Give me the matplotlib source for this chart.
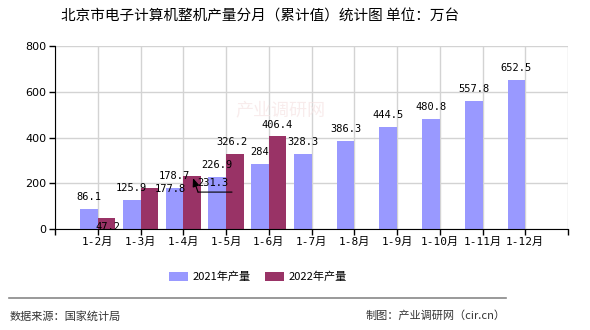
import matplotlib
matplotlib.use("Agg")
import matplotlib.pyplot as plt
import matplotlib.transforms as mtransforms
import numpy as np

categories = ["1-2月", "1-3月", "1-4月", "1-5月", "1-6月", "1-7月", "1-8月",
              "1-9月", "1-10月", "1-11月", "1-12月"]
values_2021 = [86.1, 125.9, 178.7, 226.9, 284, 328.3, 386.3, 444.5, 480.8, 557.8, 652.5]
values_2022 = [47.2, 177.8, 231.3, 326.2, 406.4]
series_names = ["2021年产量", "2022年产量"]
title = "北京市电子计算机整机产量分月（累计值）统计图 单位：万台"
source_text = "数据来源：国家统计局"
credit_text = "制图：产业调研网（cir.cn）"

c21 = "#9999FF"
c22 = "#993366"

cjk = ["Noto Sans CJK SC", "DejaVu Sans"]
mono_cjk = ["DejaVu Sans Mono", "Noto Sans CJK SC"]
plt.rcParams['font.family'] = cjk

W, H = 590, 330
fig = plt.figure(figsize=(W / 100, H / 100), dpi=100)
ax = fig.add_axes([55 / W, 1 - 229 / H, (568 - 55) / W, (229 - 46) / H])

x21 = np.arange(len(values_2021))
x22 = np.arange(len(values_2022))
bw = 0.41
ax.bar(x21 - bw / 2, values_2021, width=bw, color=c21, label=series_names[0], zorder=2)
ax.bar(x22 + bw / 2, values_2022, width=bw, color=c22, label=series_names[1], zorder=2)

ax.set_xlim(-1, len(categories))
ax.set_ylim(0, 800)
ax.set_yticks(np.arange(0, 801, 200))
ax.set_xticks(np.arange(-1, len(categories) + 1))
ax.set_xticklabels([""] + categories + [""], fontfamily=mono_cjk, fontsize=8)
for lab in ax.get_yticklabels():
    lab.set_fontfamily("DejaVu Sans")
    lab.set_fontsize(8)
ax.tick_params(axis='both', direction='out', length=4, width=1, color='black', pad=2)

ax.grid(True, color="#D3D3D3", linewidth=1, zorder=0)
ax.set_axisbelow(True)
for s in ["top", "right"]:
    ax.spines[s].set_visible(False)
ax.spines["left"].set_color("black")
ax.spines["bottom"].set_color("black")
ax.spines["left"].set_zorder(3)
ax.spines["bottom"].set_zorder(3)

# faint watermark
ax.text(0.44, 0.65, "产业调研网", transform=ax.transAxes, fontsize=13,
        color="#F6E4E4", alpha=0.7, ha="center", va="center", zorder=1)

lab_font = dict(fontfamily="DejaVu Sans Mono", fontsize=7.5, ha="center", va="center", zorder=4)

for xi, v in zip(x21, values_2021):
    ax.annotate(f"{v:g}", xy=(xi - bw / 2, v), xytext=(0, 12), textcoords="offset pixels", **lab_font)

offsets22 = [(1, -9), (21, -1), (21, -7), (-3, 12), (0, 11)]
for xi, v, (dx, dy) in zip(x22, values_2022, offsets22):
    ax.annotate(f"{v:g}", xy=(xi + bw / 2, v), xytext=(dx, dy), textcoords="offset pixels", **lab_font)

# leader line for the 1-4月 2022 label
i = 2
xb, vb = x22[i] + bw / 2, values_2022[i]
def off(dx, dy):
    return mtransforms.offset_copy(ax.transData, fig=fig, x=dx, y=dy, units='dots')
ax.annotate("", xy=(xb, vb), xycoords=off(1, -2), xytext=(xb, vb), textcoords=off(6, -16),
            arrowprops=dict(arrowstyle="-|>,head_length=0.5,head_width=0.2", color="black", lw=0.8,
                            shrinkA=0, shrinkB=0), zorder=5)
ax.annotate("", xy=(xb, vb), xycoords=off(6, -16), xytext=(xb, vb), textcoords=off(40, -16),
            arrowprops=dict(arrowstyle="-", color="black", lw=0.8, shrinkA=0, shrinkB=0), zorder=5)

fig.text(260 / W, 1 - 17 / H, title, ha="center", va="center", fontsize=10.5, color="black")

fig.legend(loc="center", bbox_to_anchor=(258 / W, 1 - 277 / H), ncol=2, frameon=False,
           fontsize=8, handlelength=1.7, handleheight=0.8, handletextpad=0.4, columnspacing=1.3)

fig.add_artist(plt.Line2D([9 / W, 506 / W], [1 - 298 / H, 1 - 298 / H], color="#888888", lw=1.2))
fig.text(10 / W, 1 - 316 / H, source_text, ha="left", va="center", fontsize=8, color="#333333")
fig.text(506 / W, 1 - 316 / H, credit_text, ha="right", va="center", fontsize=8, color="#333333")

fig.savefig("out.png", dpi=100)
